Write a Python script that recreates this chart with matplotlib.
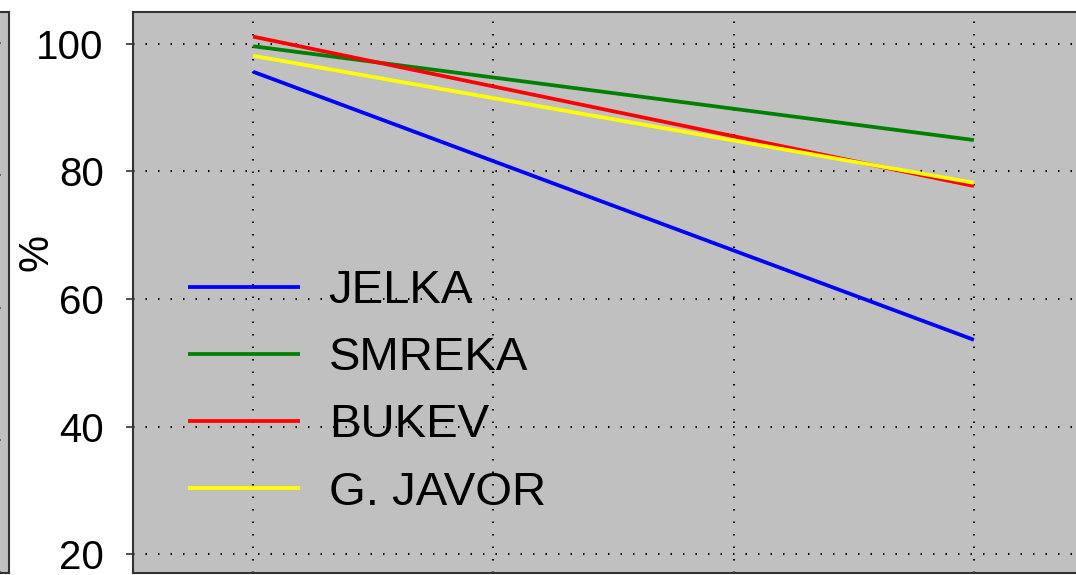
import numpy as np
import matplotlib.pyplot as plt

plt.rcParams['font.family'] = ['Liberation Sans', 'DejaVu Sans']

# data (two survey points, ticks 0 and 3)
x_pts = [0, 3]
jelka = [95.6, 53.6]
smreka = [99.6, 84.9]
bukev = [101.1, 77.7]
javor = [98.1, 78.2]
names = ['JELKA', 'SMREKA', 'BUKEV', 'G. JAVOR']
colors = ['#0000ff', '#008000', '#ff0000', '#ffff00']
y_ticks = [20, 40, 60, 80, 100]

fig = plt.figure(figsize=(10.76, 5.75), dpi=100)
bg = '#c0c0c0'
edge = '#333333'
dots = (0, (0.7, 5.3))

# neighbour panel, only its right edge shows
ax0 = fig.add_axes([9 / 1076 - 0.3, 2 / 575, 0.3, 561 / 575])
ax0.set_facecolor(bg)
ax0.set_ylim(19.9, 104.7)
ax0.set_yticks(y_ticks)
ax0.set_xticks([])
ax0.tick_params(axis='y', length=0, labelleft=False)
ax0.grid(True, axis='y', color='black', linestyle=dots, lw=1.5)
for s in ax0.spines.values():
    s.set_color(edge)
    s.set_linewidth(1.5)

ax = fig.add_axes([133 / 1076, 2 / 575, 961 / 1076, 561 / 575])
ax.set_facecolor(bg)
for ys, nm, c in zip([jelka, smreka, bukev, javor], names, colors):
    ax.plot(x_pts, ys, color=c, lw=2.7, label=nm, solid_capstyle='butt')

ax.set_xlim(-0.5, 3.5)
ax.set_ylim(17.07, 104.96)
ax.set_xticks([0, 1, 2, 3])
ax.set_xticklabels([])
ax.set_yticks(y_ticks)
ax.tick_params(axis='y', direction='out', length=5, width=1.2, color=edge,
               labelsize=29, pad=16)
ax.tick_params(axis='x', length=0)
ax.grid(True, color='black', linestyle=dots, lw=1.5)
for s in ax.spines.values():
    s.set_color(edge)
    s.set_linewidth(1.5)
ax.set_ylabel('%', fontsize=30)
ax.yaxis.set_label_coords(-0.0791, 0.572)

leg = ax.legend(loc='upper left', bbox_to_anchor=(0.0572, 0.5415), frameon=False,
                fontsize=34, handlelength=2.37, handletextpad=0.61,
                labelspacing=0.49, borderpad=0, borderaxespad=0)

fig.savefig('out.png', dpi=100)
